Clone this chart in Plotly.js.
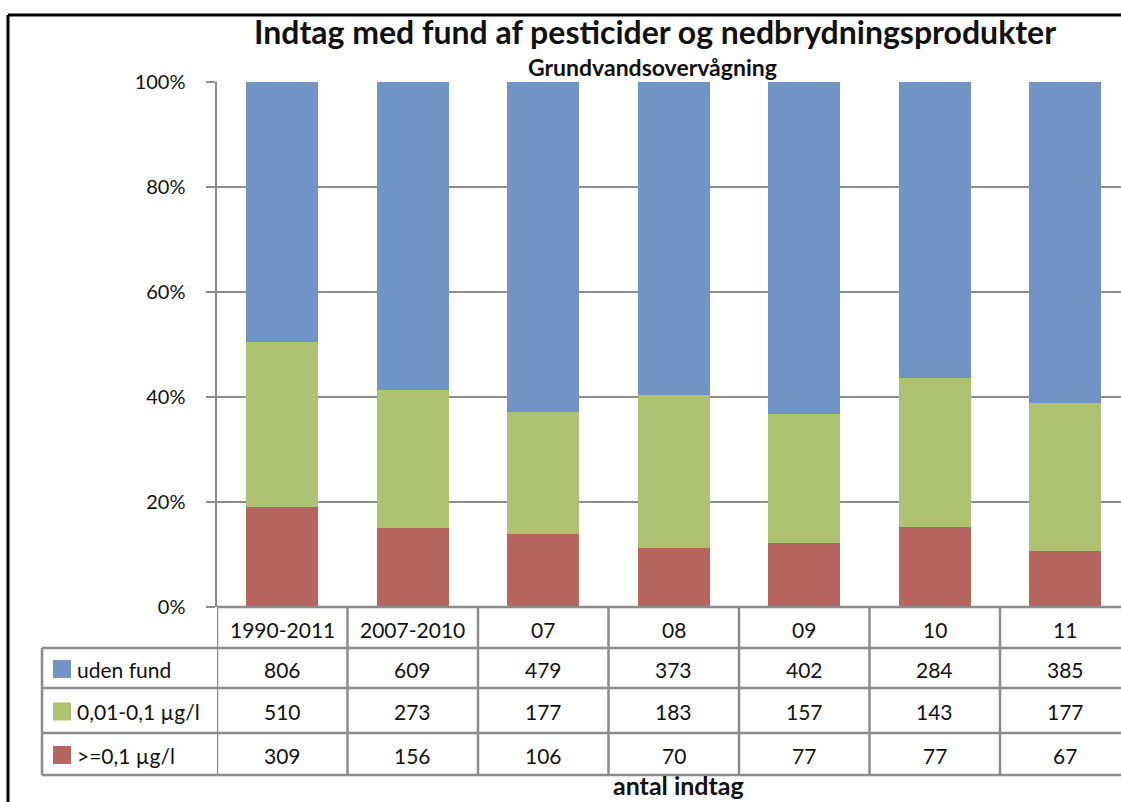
<!DOCTYPE html>
<html>
<head>
<meta charset="utf-8">
<script src="https://cdn.plot.ly/plotly-3.0.1.min.js"></script>
<style>html,body{margin:0;padding:0;background:#fff;}#chart{width:1121px;height:802px;}</style>
</head>
<body>
<div id="chart"></div>
<script>
// ---- data ----
const categories = ["1990-2011", "2007-2010", "07", "08", "09", "10", "11"];
const seriesNames = ["uden fund", "0,01-0,1 \u00b5g/l", ">=0,1 \u00b5g/l"];
const udenFund = [806, 609, 479, 373, 402, 284, 385];
const lavFund = [510, 273, 177, 183, 157, 143, 177];
const hoejFund = [309, 156, 106, 70, 77, 77, 67];
const yTicks = [0, 20, 40, 60, 80, 100];

// ---- styling ----
const colors = {uden: "#7194C6", lav: "#AFC272", hoej: "#B7655F"};
const W = 1121, H = 802;
const L = 217, R = 1121, T = 82, B = 607;
const FONT = "Lato, 'Open Sans', sans-serif";
const gridCol = "#8c8c8c";
const px = x => (x - L) / (R - L);
const py = y => (B - y) / (B - T);

const idx = categories.map((c, i) => i);
const traces = [
  {name: seriesNames[2], x: idx, y: hoejFund, marker: {color: colors.hoej}},
  {name: seriesNames[1], x: idx, y: lavFund, marker: {color: colors.lav}},
  {name: seriesNames[0], x: idx, y: udenFund, marker: {color: colors.uden}}
].map(t => Object.assign({type: "bar", hoverinfo: "skip"}, t));

const shapes = [];
const annotations = [];
const lineStyle = {color: gridCol, width: 2.5};

// outer frame
shapes.push({type: "line", xref: "paper", yref: "paper", x0: px(8), x1: px(1125), y0: py(15), y1: py(15), line: {color: "#000", width: 3}});
shapes.push({type: "line", xref: "paper", yref: "paper", x0: px(8), x1: px(8), y0: py(15), y1: py(805), line: {color: "#000", width: 3}});

// table geometry (pixels)
const rowY = [607, 648, 688, 733, 775];
const tableLeft = 42;
// horizontal lines
shapes.push({type: "line", xref: "paper", yref: "paper", x0: 0, x1: px(1125), y0: py(rowY[0]), y1: py(rowY[0]), line: lineStyle});
for (let r = 1; r < rowY.length; r++) {
  shapes.push({type: "line", xref: "paper", yref: "paper", x0: px(tableLeft), x1: px(1125), y0: py(rowY[r]), y1: py(rowY[r]), line: lineStyle});
}
// vertical lines
shapes.push({type: "line", xref: "paper", yref: "paper", x0: px(tableLeft), x1: px(tableLeft), y0: py(rowY[1]), y1: py(rowY[4]), line: lineStyle});
for (let k = 0; k <= categories.length; k++) {
  shapes.push({type: "line", xref: "x", yref: "paper", x0: k - 0.5, x1: k - 0.5, y0: py(rowY[0]), y1: py(rowY[4]), line: lineStyle});
}

const tableFont = {family: FONT, size: 21, color: "#111"};
// header row
categories.forEach((c, i) => {
  annotations.push({xref: "x", yref: "paper", x: i, y: py((rowY[0] + rowY[1]) / 2 + 2), text: c, showarrow: false, font: tableFont, xanchor: "center", yanchor: "middle"});
});
// data rows
const rows = [udenFund, lavFund, hoejFund];
const rowColors = [colors.uden, colors.lav, colors.hoej];
rows.forEach((vals, r) => {
  const yc = (rowY[r + 1] + rowY[r + 2]) / 2 + 1;
  vals.forEach((v, i) => {
    annotations.push({xref: "x", yref: "paper", x: i, y: py(yc), text: String(v), showarrow: false, font: tableFont, xanchor: "center", yanchor: "middle"});
  });
  // legend key
  shapes.push({type: "rect", xref: "paper", yref: "paper", x0: px(53), x1: px(71), y0: py(yc - 9), y1: py(yc + 9), fillcolor: rowColors[r], line: {width: 0}});
  annotations.push({xref: "paper", yref: "paper", x: px(75), y: py(yc), text: seriesNames[r], showarrow: false, font: tableFont, xanchor: "left", yanchor: "middle"});
});

// subtitle and axis caption
annotations.push({xref: "paper", yref: "paper", x: px(652), y: py(67), text: "<b>Grundvandsovervågning</b>", showarrow: false, font: {family: FONT, size: 23, color: "#111"}, xanchor: "center", yanchor: "middle"});
annotations.push({xref: "paper", yref: "paper", x: px(678), y: py(802), text: "<b>antal indtag</b>", showarrow: false, font: {family: FONT, size: 25, color: "#111"}, xanchor: "center", yanchor: "bottom"});

const layout = {
  width: W, height: H,
  margin: {l: L, r: W - R, t: T, b: H - B, pad: 0},
  paper_bgcolor: "#fff", plot_bgcolor: "#fff",
  title: {text: "<b>Indtag med fund af pesticider og nedbrydningsprodukter</b>", x: 655 / W, xanchor: "center", y: 1 - 33 / H, yanchor: "middle", font: {family: FONT, size: 32, color: "#111"}},
  barmode: "stack", barnorm: "percent", bargap: 0.45,
  showlegend: false,
  xaxis: {range: [-0.5, (R - L) / 130.5 - 0.5], showticklabels: false, ticks: "", showgrid: false, zeroline: false, showline: false, fixedrange: true},
  yaxis: {range: [0, 100], tickvals: yTicks, ticktext: yTicks.map(v => v + "%"), showgrid: true, gridcolor: gridCol, gridwidth: 2.5,
          zeroline: false, showline: true, linecolor: gridCol, linewidth: 2.5, ticks: "outside", ticklen: 9, tickwidth: 2.5, tickcolor: gridCol,
          ticklabelstandoff: 16, tickfont: {family: FONT, size: 20, color: "#111"}, fixedrange: true},
  shapes: shapes, annotations: annotations
};

Plotly.newPlot("chart", traces, layout, {displayModeBar: false, staticPlot: true});
</script>
</body>
</html>
